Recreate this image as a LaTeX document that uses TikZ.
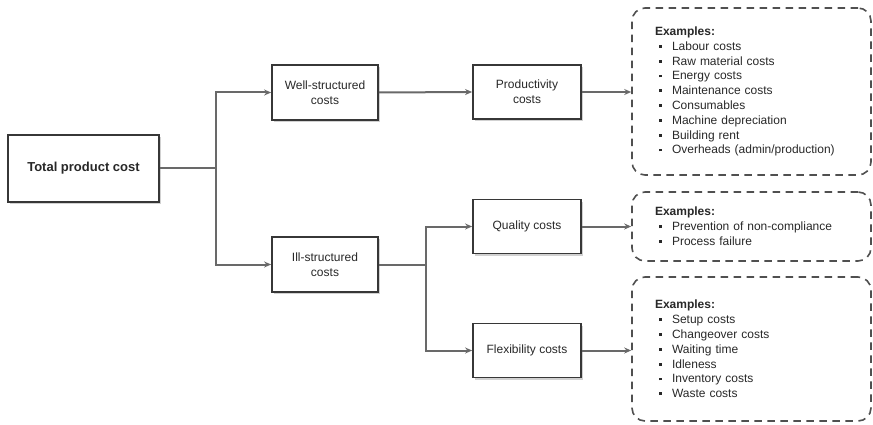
\documentclass[tikz,border=0pt]{standalone}
\usepackage{fontspec}
\setmainfont{Liberation Sans}
\usepackage{xcolor}
\usetikzlibrary{arrows.meta, positioning, calc, shadows}
\definecolor{inktext}{RGB}{40,40,40}
\definecolor{boxline}{RGB}{55,55,55}
\definecolor{linkline}{RGB}{105,105,105}
\definecolor{dashline}{RGB}{80,80,80}
\newcommand{\costitem}[1]{\makebox[17pt][l]{\hspace{4pt}\rule[2.5pt]{2.8pt}{2.8pt}}#1}

\begin{document}
\begin{tikzpicture}[
    x=1pt, y=-1pt,
    costbox/.style={draw=boxline, fill=white, line width=1.8pt, text=inktext, align=center,
        font=\fontsize{12}{15}\selectfont, inner sep=2pt,
        drop shadow={shadow xshift=2pt, shadow yshift=-2pt, fill=black!30, opacity=0.6}},
    examplebox/.style={draw=dashline, line width=1.6pt, dash pattern=on 7.5pt off 5.5pt,
        rounded corners=13pt, minimum width=239pt, text width=193pt, align=left, text=inktext,
        font=\fontsize{12}{14.8}\selectfont, inner xsep=23pt, inner ysep=0pt},
    link/.style={draw=linkline, line width=2pt},
    arrow/.style={link, -{Stealth[length=7pt, width=6pt]}}
]
\useasboundingbox (0,0) rectangle (873,425);

% Cost tree
\node[costbox, minimum width=151pt, minimum height=67pt, font=\fontsize{13}{15}\selectfont\bfseries] (total) at (83.5,168.5) {Total product cost};
\node[costbox, minimum width=106pt, minimum height=55pt] (well) at (325,92.5) {Well-structured\\costs};
\node[costbox, minimum width=106pt, minimum height=55pt] (ill) at (325,264.5) {Ill-structured\\costs};
\node[costbox, minimum width=108pt, minimum height=54pt] (prod) at (527,92) {Productivity\\costs};
\node[costbox, minimum width=108pt, minimum height=54pt] (qual) at (527,226.5) {Quality costs};
\node[costbox, minimum width=108pt, minimum height=54pt] (flex) at (527,350.5) {Flexibility costs};

% Examples
\node[examplebox, minimum height=167pt] (exprod) at (751.5,91.5) {
    \textbf{Examples:}\\
    \costitem{Labour costs}\\
    \costitem{Raw material costs}\\
    \costitem{Energy costs}\\
    \costitem{Maintenance costs}\\
    \costitem{Consumables}\\
    \costitem{Machine depreciation}\\
    \costitem{Building rent}\\
    \costitem{Overheads (admin/production)}
};
\node[examplebox, minimum height=69pt] (exqual) at (751.5,226.5) {
    \textbf{Examples:}\\
    \costitem{Prevention of non-compliance}\\
    \costitem{Process failure}
};
\node[examplebox, minimum height=144pt] (exflex) at (751.5,349) {
    \textbf{Examples:}\\
    \costitem{Setup costs}\\
    \costitem{Changeover costs}\\
    \costitem{Waiting time}\\
    \costitem{Idleness}\\
    \costitem{Inventory costs}\\
    \costitem{Waste costs}
};

% Connectors
\coordinate (splittotal) at ($(total.east)+(56,0)$);
\coordinate (splitill) at ($(ill.east)+(47,0)$);
\draw[link] (total.east) -- (splittotal);
\draw[arrow] (splittotal) |- (well.west);
\draw[arrow] (splittotal) |- (ill.west);
\draw[arrow] (well.east) -- (prod.west);
\draw[arrow] (prod.east) -- (prod.east -| exprod.west);
\draw[link] (ill.east) -- (splitill);
\draw[arrow] (splitill) |- (qual.west);
\draw[arrow] (splitill) |- (flex.west);
\draw[arrow] (qual.east) -- (qual.east -| exqual.west);
\draw[arrow] (flex.east) -- (flex.east -| exflex.west);

\end{tikzpicture}
\end{document}
